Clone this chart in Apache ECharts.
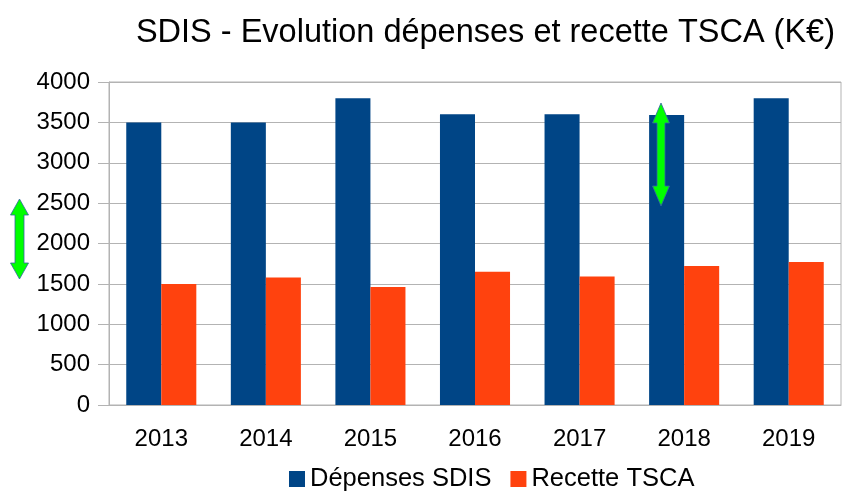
<!DOCTYPE html>
<html>
<head>
<meta charset="utf-8">
<script src="https://cdn.jsdelivr.net/npm/echarts@6/dist/echarts.min.js"></script>
<style>
  html, body { margin: 0; padding: 0; background: #fff; }
  #chart { width: 845px; height: 498px; }
</style>
</head>
<body>
<div id="chart"></div>
<script>
var years = ['2013', '2014', '2015', '2016', '2017', '2018', '2019'];
var depenses = [3500, 3500, 3800, 3600, 3600, 3590, 3800];
var recette = [1500, 1580, 1460, 1650, 1590, 1720, 1770];
var yTicks = [0, 500, 1000, 1500, 2000, 2500, 3000, 3500, 4000];

var dom = document.getElementById('chart');
var myChart = echarts.init(dom);

// double arrow outline, drawn as decoration
function doubleArrow(cx, top, bottom, headW, shaftW, headH) {
    var h = headW / 2, s = shaftW / 2;
    return [
        [cx, top], [cx + h, top + headH], [cx + s, top + headH],
        [cx + s, bottom - headH], [cx + h, bottom - headH], [cx, bottom],
        [cx - h, bottom - headH], [cx - s, bottom - headH],
        [cx - s, top + headH], [cx - h, top + headH]
    ];
}

var font = 'Liberation Sans, Arial, sans-serif';

var option = {
    animation: false,
    title: {
        text: 'SDIS - Evolution dépenses et recette TSCA (K€)',
        right: 5,
        top: 12,
        textStyle: { fontFamily: font, fontSize: 32.5, fontWeight: 'normal', color: '#000' }
    },
    legend: {
        data: ['Dépenses SDIS', 'Recette TSCA'],
        left: 284,
        bottom: 1,
        itemWidth: 16,
        itemHeight: 16,
        itemGap: 19,
        icon: 'rect',
        textStyle: { fontFamily: font, fontSize: 25.5, color: '#000' }
    },
    grid: {
        left: 109,
        right: 4,
        top: 82,
        bottom: 93,
        show: true,
        borderColor: '#b3b3b3',
        borderWidth: 1
    },
    xAxis: {
        type: 'category',
        data: years,
        axisLine: { lineStyle: { color: '#b3b3b3' } },
        axisTick: { length: 11, lineStyle: { color: '#b3b3b3' } },
        axisLabel: { fontFamily: font, fontSize: 24, color: '#000', margin: 22 }
    },
    yAxis: {
        type: 'value',
        min: yTicks[0],
        max: yTicks[yTicks.length - 1],
        interval: 500,
        axisLine: { show: true, lineStyle: { color: '#b3b3b3' } },
        axisTick: { show: true, length: 11, lineStyle: { color: '#b3b3b3' } },
        splitLine: { lineStyle: { color: '#b3b3b3' } },
        axisLabel: {
            fontFamily: font, fontSize: 24, color: '#000', margin: 19,
            formatter: function (v) { return String(v); }
        }
    },
    series: [
        {
            name: 'Dépenses SDIS',
            type: 'bar',
            data: depenses,
            itemStyle: { color: '#004586' },
            barGap: '0%',
            barCategoryGap: '33%'
        },
        {
            name: 'Recette TSCA',
            type: 'bar',
            data: recette,
            itemStyle: { color: '#ff420e' }
        }
    ],
    graphic: [
        {
            type: 'polygon',
            shape: { points: doubleArrow(19.5, 199, 279, 18, 9, 16) },
            style: { fill: '#00ff00', stroke: '#3465a4', lineWidth: 0.8 },
            z: 100
        },
        {
            type: 'polygon',
            shape: { points: doubleArrow(661, 103, 206, 17, 8, 20) },
            style: { fill: '#00ff00', stroke: '#3465a4', lineWidth: 0.8 },
            z: 100
        }
    ]
};

myChart.setOption(option, true);
</script>
</body>
</html>
